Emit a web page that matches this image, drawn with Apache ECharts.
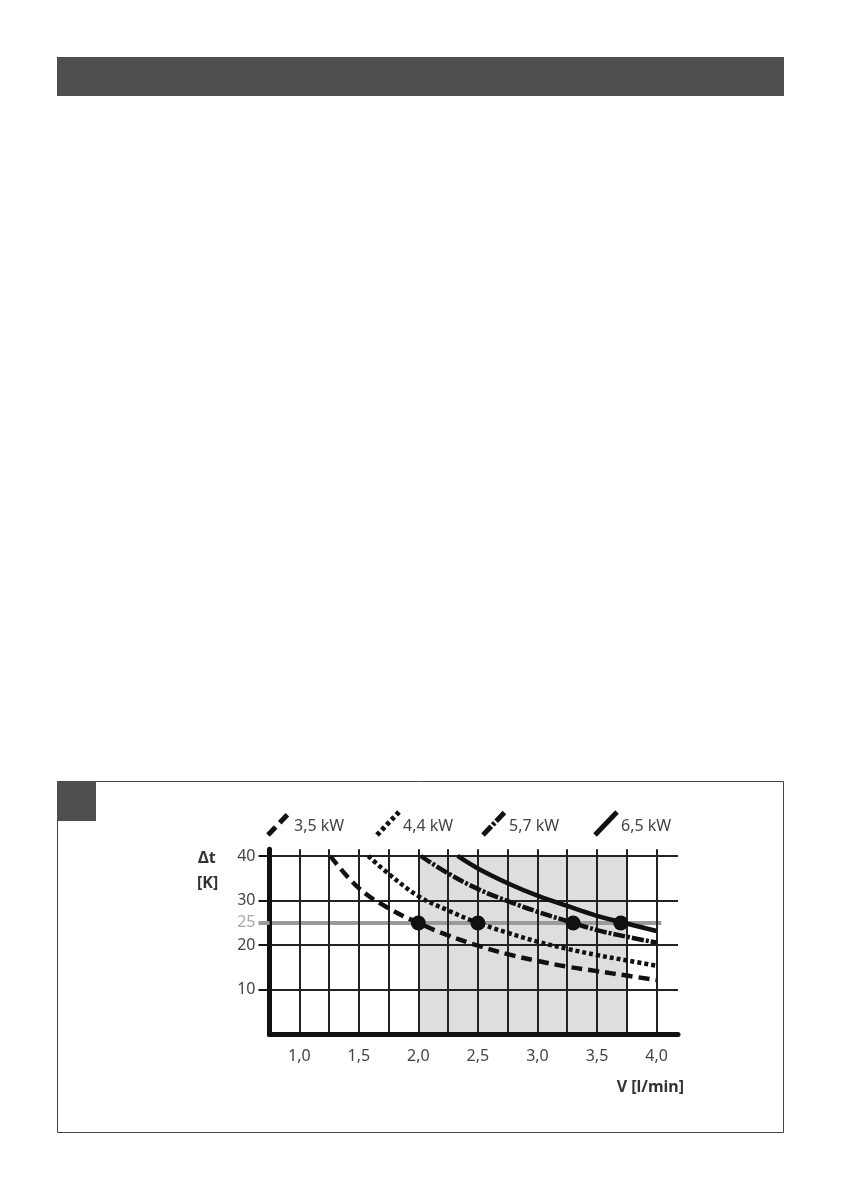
<!DOCTYPE html>
<html>
<head>
<meta charset="utf-8">
<script src="https://cdn.jsdelivr.net/npm/echarts@6/dist/echarts.min.js"></script>
<style>
  html, body { margin: 0; padding: 0; background: #fff; }
  #chart { width: 842px; height: 1191px; }
</style>
</head>
<body>
<div id="chart"></div>
<script>
// Δt [K] over flow V [l/min], one curve per heater power
const seriesNames = ['3,5 kW', '4,4 kW', '5,7 kW', '6,5 kW'];
const curve35 = [[1.26, 40], [1.5, 32.8], [1.75, 28.3], [2.0, 25], [2.25, 22.2], [2.5, 19.9], [2.75, 18], [3.0, 16.5], [3.25, 15.2], [3.5, 14.2], [3.75, 13.2], [4.0, 12.2]];
const curve44 = [[1.58, 40], [1.75, 36], [2.0, 31], [2.25, 27.8], [2.5, 25], [2.75, 22.8], [3.0, 20.8], [3.25, 19.2], [3.5, 17.8], [3.75, 16.6], [4.0, 15.4]];
const curve57 = [[2.02, 40], [2.25, 36.1], [2.5, 32.6], [2.75, 29.9], [3.0, 27.5], [3.3, 25], [3.5, 23.4], [3.75, 21.9], [4.0, 20.6]];
const curve65 = [[2.33, 40], [2.5, 37.2], [2.75, 33.9], [3.0, 31.1], [3.25, 28.8], [3.5, 26.6], [3.7, 25.2], [4.0, 23.2]];
const ratedPoints = [[2.0, 25], [2.5, 25], [3.3, 25], [3.7, 25]];
const shadedRange = [2.0, 3.75];
const refLineY = 25;
const xTickLabels = [1.0, 1.5, 2.0, 2.5, 3.0, 3.5, 4.0];
const yTickLabels = [10, 20, 30, 40];

const dashes = [[11, 6], [4, 3], [12, 2, 3, 2], null];
const curves = [curve35, curve44, curve57, curve65];

const chart = echarts.init(document.getElementById('chart'));
const font = 'Noto Sans';
const ink = '#111';

const curveSeries = curves.map((d, i) => ({
    name: seriesNames[i],
    type: 'line',
    data: d,
    smooth: 0.4,
    showSymbol: false,
    z: 4,
    lineStyle: { color: ink, width: 4.5, type: dashes[i] || 'solid', cap: 'butt' }
}));

// legend drawn by hand: slanted line sample + label
const legendX = [268, 377, 483, 595];
const legendGraphics = [];
seriesNames.forEach((n, i) => {
    const x = legendX[i];
    legendGraphics.push({
        type: 'line',
        shape: { x1: x, y1: 835, x2: x + 22, y2: 812 },
        style: { stroke: ink, lineWidth: 5, lineDash: dashes[i] || null }
    });
    legendGraphics.push({
        type: 'text', x: x + 26, y: 826,
        style: { text: n, font: '16px ' + font, fill: '#444', verticalAlign: 'middle' }
    });
});

const option = {
    animation: false,
    grid: { left: 269.5, top: 849.3, width: 408.5, height: 185.2 },
    xAxis: {
        type: 'value', min: 0.75, max: 4.18, interval: 0.25, z: 3,
        axisLine: { lineStyle: { color: ink, width: 5 } },
        axisTick: { show: false },
        splitLine: { show: true, showMaxLine: false, lineStyle: { color: '#222', width: 2 } },
        axisLabel: {
            margin: 14, color: '#444', fontFamily: font, fontSize: 16,
            formatter: v => xTickLabels.some(t => Math.abs(t - v) < 1e-6) ? v.toFixed(1).replace('.', ',') : ''
        }
    },
    yAxis: [{
        type: 'value', position: 'left', min: 0, max: 41.5, interval: 5, z: 3,
        axisLine: { show: true, lineStyle: { color: ink, width: 5 } },
        axisTick: { show: true, customValues: [refLineY], length: 11, lineStyle: { color: '#9a9a9a', width: 4 } },
        splitLine: { show: false },
        axisLabel: {
            margin: 14, fontFamily: font, fontSize: 16, color: '#444',
            formatter: v => v === refLineY ? '{g|25}' : (yTickLabels.includes(v) ? String(v) : ''),
            rich: { g: { color: '#a8a8a8', fontFamily: font, fontSize: 16 } }
        }
    }, {
        type: 'value', position: 'left', offset: 0, min: 0, max: 41.5, interval: 10, z: 3,
        axisLine: { show: false },
        axisTick: { show: true, customValues: yTickLabels, length: 11, lineStyle: { color: ink, width: 2 } },
        axisLabel: { show: false },
        splitLine: { show: true, lineStyle: { color: '#222', width: 2 } }
    }],
    graphic: [
        { type: 'rect', shape: { x: 57, y: 57, width: 727, height: 39 }, style: { fill: '#4f4d4d' } },
        { type: 'rect', shape: { x: 57.5, y: 781.5, width: 726, height: 351 }, style: { fill: 'none', stroke: '#444', lineWidth: 1 } },
        { type: 'rect', shape: { x: 57, y: 781, width: 39, height: 40 }, style: { fill: '#4f4d4d' } },
        { type: 'text', x: 198, y: 858, style: { text: 'Δt', font: 'bold 16px ' + font, fill: '#333', verticalAlign: 'middle' } },
        { type: 'text', x: 197, y: 883, style: { text: '[K]', font: 'bold 16px ' + font, fill: '#333', verticalAlign: 'middle' } },
        { type: 'text', x: 684, y: 1087, style: { text: 'V [l/min]', font: 'bold 16px ' + font, fill: '#333', align: 'right', verticalAlign: 'middle' } }
    ].concat(legendGraphics),
    series: [{
        type: 'line', data: [], z: 1,
        markArea: {
            silent: true, z: 1,
            itemStyle: { color: '#dedede' },
            data: [[{ coord: [shadedRange[0], 0] }, { coord: [shadedRange[1], 40] }]]
        },
        markLine: {
            silent: true, z: 2, symbol: 'none', label: { show: false },
            lineStyle: { color: '#9a9a9a', width: 4, type: 'solid' },
            data: [[{ coord: [0.75, refLineY] }, { coord: [4.04, refLineY] }]]
        }
    }].concat(curveSeries, [{
        type: 'scatter', data: ratedPoints, z: 5,
        symbol: 'circle', symbolSize: 15,
        itemStyle: { color: ink, opacity: 1 }
    }])
};
chart.setOption(option);
</script>
</body>
</html>
